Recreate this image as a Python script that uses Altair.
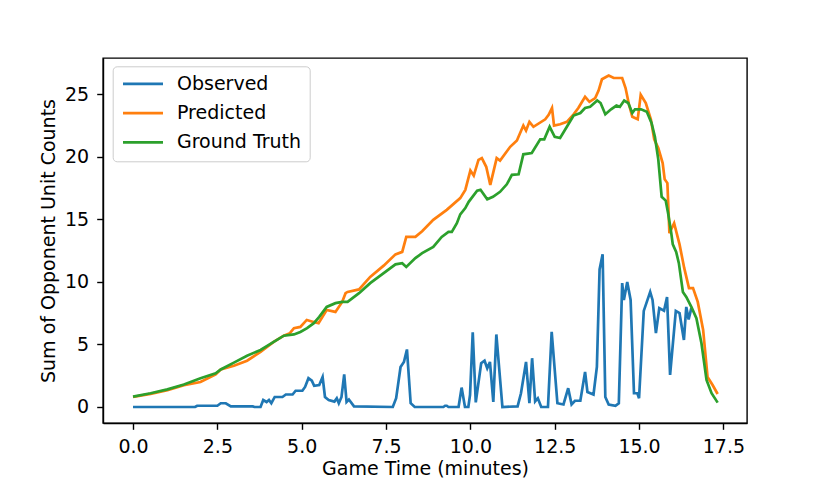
import altair as alt
import pandas as pd

# ---- data ----
obs_t = [0, 1.84, 1.9, 2.5, 2.6, 2.75, 2.9, 3.55, 3.6, 3.78, 3.86, 3.96, 4.03, 4.1,
         4.2, 4.43, 4.53, 4.73, 4.82, 5.02, 5.1, 5.2, 5.3, 5.37, 5.52, 5.62, 5.69,
         5.8, 5.97, 6.04, 6.1, 6.18, 6.26, 6.33, 6.4, 6.55, 7.7, 7.8, 7.93, 8.03,
         8.12, 8.23, 8.35, 9.2, 9.25, 9.3, 9.35, 9.65, 9.74, 9.84, 9.94, 9.99,
         10.07, 10.16, 10.32, 10.42, 10.5, 10.58, 10.68, 10.77, 10.95, 11.4, 11.5,
         11.65, 11.75, 11.83, 11.92, 12.0, 12.1, 12.3, 12.41, 12.58, 12.76, 12.9,
         13.0, 13.1, 13.26, 13.4, 13.47, 13.65, 13.75, 13.83, 13.92, 14.0, 14.1,
         14.3, 14.4, 14.5, 14.55, 14.65, 14.75, 14.85, 14.95, 15.0, 15.14, 15.33,
         15.4, 15.5, 15.6, 15.74, 15.83, 15.92, 16.09, 16.2, 16.33, 16.4, 16.47,
         16.55]
obs_v = [0, 0, 0.1, 0.1, 0.3, 0.3, 0.05, 0.05, 0, 0, 0.56, 0.4, 0.56, 0.3,
         0.8, 0.8, 1.0, 1.0, 1.3, 1.3, 1.6, 2.3, 2.1, 1.7, 1.75, 2.4, 0.8,
         0.56, 0.43, 0.7, 0.3, 0.8, 2.6, 0.4, 0.6, 0.05, 0, 0.7, 3.2, 3.6,
         4.6, 0.3, 0, 0, 0.1, 0.1, 0, 0, 1.55, 0, 0, 0.96,
         5.97, 0.37, 3.5, 3.7, 3.1, 3.6, 0.4, 5.8, 0, 0.05, 1.1,
         3.6, 0.3, 3.9, 0.45, 0.7, 0, 0, 6.0, 0.3, 0.2, 1.5,
         0.2, 0.5, 0.5, 2.8, 1.2, 1.0, 3.2, 11.0, 12.2, 0.8, 0.2,
         0.1, 0.3, 9.9, 8.56, 10.0, 8.56, 1.1, 1.1, 0.7, 7.68, 9.2,
         8.56, 5.9, 7.9, 7.7, 8.78, 2.56, 7.68, 7.5, 5.36, 8.0, 7.0,
         7.9]

pred_t = [0, 0.52, 1.02, 1.51, 2.0, 2.45, 2.6, 2.99, 3.38, 3.78, 4.17, 4.47, 4.65,
          4.77, 4.96, 5.15, 5.35, 5.5, 5.74, 6.0, 6.2, 6.3, 6.36, 6.7, 7.03, 7.43,
          7.78, 7.98, 8.1, 8.37, 8.57, 8.9, 9.3, 9.7, 9.85, 10.0, 10.1, 10.24,
          10.34, 10.47, 10.59, 10.78, 10.88, 11.18, 11.38, 11.57, 11.65, 11.75,
          11.87, 12.22, 12.32, 12.42, 12.48, 12.66, 12.86, 13.06, 13.2, 13.4,
          13.53, 13.7, 13.8, 13.9, 14.1, 14.25, 14.5, 14.6, 14.7, 14.8, 14.96,
          15.05, 15.2, 15.35, 15.45, 15.57, 15.7, 15.76, 15.84, 15.9, 16.04, 16.2,
          16.34, 16.48, 16.6, 16.74, 16.9, 17.03, 17.18, 17.33]
pred_v = [0.8, 1.05, 1.35, 1.75, 2.0, 2.6, 3.0, 3.3, 3.7, 4.4, 5.2, 5.7, 5.9,
          6.3, 6.4, 6.96, 6.8, 6.7, 7.76, 7.6, 8.4, 9.1, 9.2, 9.4, 10.4, 11.3,
          12.2, 12.4, 13.6, 13.6, 14.05, 14.96, 15.76, 16.7, 17.36, 18.9, 18.5, 19.76,
          19.9, 19.2, 17.76, 19.9, 19.7, 20.8, 21.3, 22.5, 22.1, 22.8,
          22.4, 23.0, 23.36, 23.9, 22.5, 22.6, 22.8, 23.4, 23.9, 24.8,
          24.4, 24.7, 25.3, 26.2, 26.5, 26.3, 26.3, 25.5, 24.2, 23.2, 23.0,
          24.96, 24.3, 23.0, 21.4, 20.7, 19.5, 18.2, 17.9, 13.9, 14.7, 13.0,
          11.1, 9.5, 9.5, 8.4, 6.16, 2.4, 1.76, 1.04]

gt_t = [0, 0.52, 1.02, 1.51, 2.0, 2.45, 2.6, 2.99, 3.38, 3.78, 4.17, 4.47, 4.77,
        4.96, 5.16, 5.36, 5.52, 5.74, 6.0, 6.2, 6.36, 6.7, 7.03, 7.43, 7.78, 7.98,
        8.1, 8.37, 8.57, 8.9, 9.15, 9.35, 9.45, 9.6, 9.7, 9.85, 9.95, 10.2, 10.3,
        10.5, 10.67, 10.88, 11.08, 11.23, 11.43, 11.57, 11.82, 12.07, 12.19,
        12.35, 12.5, 12.66, 12.86, 13.06, 13.26, 13.4, 13.55, 13.76, 13.86, 14.0,
        14.17, 14.33, 14.43, 14.56, 14.68, 14.8, 14.88, 15.06, 15.23, 15.37,
        15.47, 15.57, 15.67, 15.79, 15.86, 15.95, 16.0, 16.1, 16.18, 16.3, 16.4,
        16.55, 16.7, 16.85, 17.0, 17.15, 17.33]
gt_v = [0.83, 1.1, 1.41, 1.8, 2.3, 2.7, 3.0, 3.55, 4.1, 4.56, 5.2, 5.7, 5.8,
        6.0, 6.3, 6.7, 7.2, 8.0, 8.3, 8.4, 8.4, 9.1, 9.9, 10.7, 11.4, 11.5,
        11.2, 11.9, 12.3, 12.8, 13.6, 14.0, 14.0, 14.7, 15.4, 15.9, 16.4, 17.3, 17.36,
        16.6, 16.8, 17.2, 17.8, 18.56, 18.6, 20.2, 20.3, 21.4, 21.4,
        22.4, 21.6, 21.5, 22.4, 23.3, 23.5, 23.9, 24.0, 24.5, 24.3, 23.4,
        23.8, 24.1, 24.0, 24.5, 24.3, 23.5, 23.8, 23.8, 23.6, 22.7,
        21.6, 19.8, 16.8, 16.5, 15.5, 14.0, 13.0, 12.4, 11.5, 9.2, 8.8,
        8.0, 7.1, 5.1, 2.16, 1.1, 0.35]

series_names = ["Observed", "Predicted", "Ground Truth"]
series_colors = ["#1f77b4", "#ff7f0e", "#2ca02c"]
x_ticks = [0, 2.5, 5, 7.5, 10, 12.5, 15, 17.5]
y_ticks = [0, 5, 10, 15, 20, 25]

frames = []
for name, t, v in zip(series_names, [obs_t, pred_t, gt_t], [obs_v, pred_v, gt_v]):
    frames.append(pd.DataFrame({"t": t, "v": v, "series": name, "idx": range(len(t))}))
df = pd.concat(frames, ignore_index=True)

FONT = "DejaVu Sans"
FS = 19

x_enc = alt.X("t:Q",
              scale=alt.Scale(domain=[-0.89, 18.2], nice=False, zero=False),
              axis=alt.Axis(values=x_ticks, format=".1f", title="Game Time (minutes)",
                            labelPadding=8.2, titleY=51.5, titleBaseline="alphabetic"))
y_enc = alt.Y("v:Q",
              scale=alt.Scale(domain=[-1.28, 27.9], nice=False, zero=False),
              axis=alt.Axis(values=y_ticks, format="d", title="Sum of Opponent Unit Counts",
                            labelPadding=8.0, titleX=-49, titleY=182.5,
                            titleBaseline="alphabetic", titleAngle=270, titleAlign="center"))
color_enc = alt.Color("series:N",
                      scale=alt.Scale(domain=series_names, range=series_colors),
                      legend=alt.Legend(title=None, orient="none", legendX=9.7, legendY=8.3,
                                        symbolType="M-1.44,0H6.56", symbolSize=100,
                                        symbolStrokeWidth=2.7, labelFontSize=FS,
                                        labelFont=FONT, labelColor="black",
                                        labelOffset=37.3, padding=8, rowPadding=9.3,
                                        strokeColor="#cccccc", fillColor="rgba(255,255,255,0.8)",
                                        cornerRadius=4))

layers = []
for name in series_names:
    layers.append(
        alt.Chart(df).transform_filter(alt.datum.series == name)
        .mark_line(strokeWidth=2.7, clip=True)
        .encode(x=x_enc, y=y_enc, color=color_enc, order="idx:Q")
    )

chart = alt.layer(*layers).properties(
    width=644, height=365,
    autosize=alt.AutoSizeParams(type="none"),
    padding={"left": 95, "top": 50, "right": 50, "bottom": 58},
).configure_view(
    stroke="black", strokeWidth=1.4
).configure_axis(
    labelFont=FONT, labelFontSize=FS, labelColor="black",
    titleFont=FONT, titleFontSize=FS, titleFontWeight="normal", titleColor="black",
    tickSize=6.3, tickWidth=1.4, tickColor="black",
    domainColor="black", domainWidth=1.4, grid=False
)

chart.save("out.html", embed_options={"renderer": "svg", "actions": False})
